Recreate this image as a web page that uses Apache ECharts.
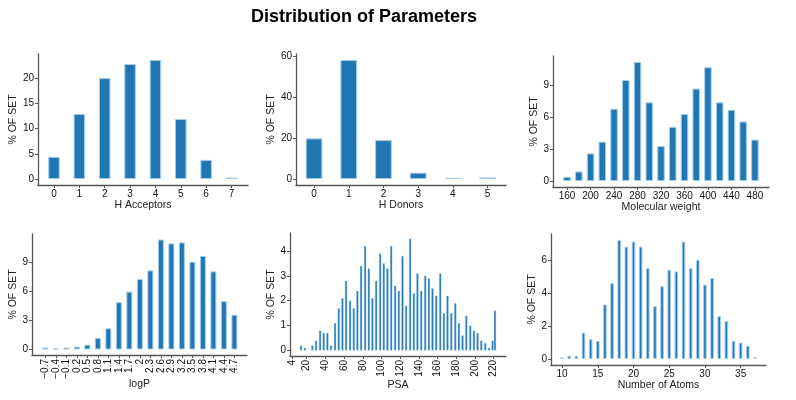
<!DOCTYPE html>
<html>
<head>
<meta charset="utf-8">
<script src="https://cdn.jsdelivr.net/npm/echarts@6/dist/echarts.min.js"></script>
<style>html,body{margin:0;padding:0;background:#fff}#c{width:796px;height:400px}</style>
</head>
<body>
<div id="c"></div>
<script>
// ---- data ----
const hAccCats = [0, 1, 2, 3, 4, 5, 6, 7];
const hAccVals = [4.4, 12.9, 20.0, 22.8, 23.6, 11.9, 3.8, 0.3];
const hAccYTicks = [0, 5, 10, 15, 20];

const hDonCats = [0, 1, 2, 3, 4, 5];
const hDonVals = [19.8, 58.0, 19.0, 3.1, 0.6, 0.8];
const hDonYTicks = [0, 20, 40, 60];

const mwCats = [160, 180, 200, 220, 240, 260, 280, 300, 320, 340, 360, 380, 400, 420, 440, 460, 480];
const mwVals = [0.4, 0.9, 2.6, 3.7, 6.8, 9.5, 11.2, 7.4, 3.3, 5.1, 6.3, 8.7, 10.7, 7.4, 6.7, 5.6, 3.9];
const mwXTicks = [160, 200, 240, 280, 320, 360, 400, 440, 480];
const mwYTicks = [0, 3, 6, 9];

const logpCats = [-0.7, -0.4, -0.1, 0.2, 0.5, 0.8, 1.1, 1.4, 1.7, 2.0, 2.3, 2.6, 2.9, 3.2, 3.5, 3.8, 4.1, 4.4, 4.7];
const logpVals = [0.2, 0.1, 0.2, 0.3, 0.5, 1.2, 2.2, 4.9, 6.0, 7.3, 8.2, 11.4, 11.0, 11.1, 9.1, 9.7, 8.1, 5.0, 3.6];
const logpYTicks = [0, 3, 6, 9];

const psaX = [13.9, 18.2, 26.0, 30.0, 34.3, 38.2, 42.1, 46.0, 50.3, 54.3, 58.2, 62.1, 66.4, 70.4, 74.2, 78.2,
  82.5, 86.5, 90.3, 94.3, 98.6, 102.5, 106.4, 110.4, 114.6, 118.6, 122.5, 126.4, 130.7, 134.7, 138.5, 142.5,
  146.8, 150.8, 154.6, 158.6, 162.9, 166.8, 170.7, 174.7, 179.0, 182.9, 186.8, 190.8, 195.0, 199.0, 202.9,
  206.8, 211.1, 215.1, 219.0, 221.5];
const psaVals = [0.2, 0.1, 0.2, 0.4, 0.8, 0.7, 0.7, 0.2, 1.1, 1.7, 2.1, 2.8, 2.0, 1.7, 2.4, 3.4,
  4.2, 3.3, 2.1, 2.8, 3.9, 3.5, 3.3, 4.2, 2.6, 2.4, 3.8, 1.8, 4.5, 2.3, 3.1, 2.4,
  3.0, 2.9, 2.5, 2.2, 3.1, 1.5, 2.2, 1.5, 1.9, 1.1, 0.6, 1.4, 1.0, 0.8, 0.7,
  0.4, 0.3, 0.1, 0.4, 1.6];
const psaXTicks = [4, 20, 40, 60, 80, 100, 120, 140, 160, 180, 200, 220];
const psaYTicks = [0, 1, 2, 3, 4];

const atomCats = [10, 11, 12, 13, 14, 15, 16, 17, 18, 19, 20, 21, 22, 23, 24, 25, 26, 27, 28, 29, 30, 31, 32, 33, 34, 35, 36, 37];
const atomVals = [0.1, 0.2, 0.2, 1.6, 1.2, 1.1, 3.3, 4.6, 7.2, 6.8, 7.1, 6.8, 5.5, 3.2, 4.4, 5.4, 5.3, 7.1, 5.5, 6.0, 4.5, 4.9, 2.6, 2.3, 1.1, 1.0, 0.8, 0.1];
const atomXTicks = [10, 15, 20, 25, 30, 35];
const atomYTicks = [0, 2, 4, 6];

// ---- layout ----
const panels = [
  {cats: hAccCats, vals: hAccVals, xTicks: hAccCats, yTicks: hAccYTicks, name: 'H Acceptors',
   box: [38, 54, 210, 131], xr: [-0.63, 7.65], bw: 11.5, rot: 0},
  {cats: hDonCats, vals: hDonVals, xTicks: hDonCats, yTicks: hDonYTicks, name: 'H Donors',
   box: [296, 54, 210, 131], xr: [-0.52, 5.53], bw: 16.7, rot: 0},
  {cats: mwCats, vals: mwVals, xTicks: mwXTicks, yTicks: mwYTicks, name: 'Molecular weight',
   box: [553, 56, 216, 131], xr: [136, 504], bw: 7.5, rot: 0},
  {cats: logpCats, vals: logpVals, xTicks: logpCats, yTicks: logpYTicks, name: 'logP',
   box: [32, 234, 215, 121], xr: [-1.08, 5.06], bw: 6, rot: 90},
  {cats: psaX, vals: psaVals, xTicks: psaXTicks, yTicks: psaYTicks, name: 'PSA',
   box: [290, 233, 216, 123], xr: [2.1, 233.3], bw: 2.2, rot: 90, thin: true},
  {cats: atomCats, vals: atomVals, xTicks: atomXTicks, yTicks: atomYTicks, name: 'Number of Atoms',
   box: [551, 234, 215, 131], xr: [8.45, 38.55], bw: 3.6, rot: 0}
];

const FONT = 'Liberation Sans, Arial, sans-serif';
const AXC = '#555555';
const fmt = v => {
  let s = String(Math.round(v * 10) / 10);
  return s.replace('-', '\u2212');
};

const grid = [], xAxis = [], yAxis = [], series = [];
panels.forEach((p, i) => {
  const dmax = Math.max.apply(null, p.vals);
  grid.push({left: p.box[0], top: p.box[1], width: p.box[2], height: p.box[3], containLabel: false});
  xAxis.push({
    type: 'value', gridIndex: i, min: p.xr[0], max: p.xr[1],
    name: p.name, nameLocation: 'middle', nameGap: p.rot ? 23.5 : 14.5, nameMoveOverlap: false,
    nameTextStyle: {color: '#222', fontSize: 10.5, fontFamily: FONT},
    axisLine: {show: true, onZero: false, lineStyle: {color: AXC, width: 1.3}},
    axisTick: {show: true, length: 3, customValues: p.xTicks, lineStyle: {color: AXC}},
    axisLabel: {show: true, customValues: p.xTicks, formatter: fmt, rotate: p.rot, margin: 4,
      color: '#111', fontSize: 10, fontFamily: FONT},
    splitLine: {show: false}
  });
  yAxis.push({
    type: 'value', gridIndex: i, min: -0.05 * dmax, max: 1.05 * dmax,
    name: '% OF SET', nameLocation: 'middle', nameGap: 13, nameRotate: 90,
    nameTextStyle: {color: '#222', fontSize: 10.5, fontFamily: FONT},
    axisLine: {show: true, onZero: false, lineStyle: {color: AXC, width: 1.3}},
    axisTick: {show: true, length: 3, customValues: p.yTicks, lineStyle: {color: AXC}},
    axisLabel: {show: true, customValues: p.yTicks, formatter: fmt, margin: 4,
      color: '#111', fontSize: 10, fontFamily: FONT},
    splitLine: {show: false}
  });
  series.push({
    type: 'bar', xAxisIndex: i, yAxisIndex: i,
    data: p.cats.map((c, k) => [c, p.vals[k]]),
    barWidth: p.bw,
    itemStyle: {color: '#1f77b4', borderColor: '#a6cde8', borderWidth: p.thin ? 0.4 : 1},
    emphasis: {disabled: true},
    animation: false
  });
});

const chart = echarts.init(document.getElementById('c'), null, {renderer: 'canvas'});
chart.setOption({
  backgroundColor: '#ffffff',
  animation: false,
  title: {text: 'Distribution of Parameters', left: 359, top: 3, textAlign: 'center',
    textStyle: {fontSize: 18, fontWeight: 'bold', color: '#000', fontFamily: FONT}},
  grid: grid, xAxis: xAxis, yAxis: yAxis, series: series
});
</script>
</body>
</html>
